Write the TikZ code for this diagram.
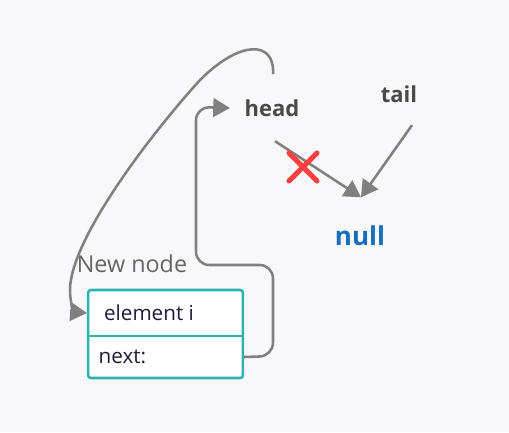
\documentclass[tikz,border=0pt]{standalone}
\usepackage{fontspec}
\setmainfont{Open Sans}
\usepackage{tikz}
\usetikzlibrary{arrows.meta, positioning, calc}
\definecolor{cBack}{RGB}{248,248,250}
\definecolor{cPtr}{RGB}{128,128,128}
\definecolor{cTeal}{RGB}{42,179,176}
\definecolor{cNull}{RGB}{24,110,190}
\definecolor{cLabel}{RGB}{74,74,74}
\definecolor{cInk}{RGB}{28,28,58}
\definecolor{cCross}{RGB}{255,64,64}
\tikzset{
	ptr/.style     ={-{Triangle[length=12.5pt, width=14pt]}, line width=1.9pt, draw=cPtr},
	varname/.style ={font=\fontsize{16.5}{18}\selectfont\bfseries, text=cLabel},
	nodebox/.style ={rectangle, draw=cTeal, line width=1.9pt, rounded corners=2pt, fill=white, minimum width=116pt, minimum height=66pt, inner sep=0pt},
	field/.style   ={font=\fontsize{15.5}{17}\selectfont, text=cInk},
	crossline/.style={draw=cCross, line width=3.8pt, line cap=round},
}
\begin{document}
\begin{tikzpicture}[x=0.75pt, y=-0.75pt]
	\fill[cBack] (0,0) rectangle (509,432);
	\useasboundingbox (0,0) rectangle (509,432);
	% variables
	\node[varname] (head) at (272,108) {head};
	\node[varname] (tail) at (399,94) {tail};
	\node[font=\fontsize{19.5}{21}\selectfont\bfseries, text=cNull] (null) at (360,236) {null};
	% the new node
	\node[nodebox] (box) at (165.5,334) {};
	\draw[cTeal, line width=1.9pt] (box.west |- 0,336) -- (box.east |- 0,336);
	\node[font=\fontsize{17.5}{19}\selectfont, text=cLabel!85] (newlbl) at (132,264) {New node};
	\node[field] (elem) at (149,313) {element i};
	\node[field, anchor=west] (nxt) at (94,357) {next:};
	% pointers
	\coordinate (nulltop) at ($(null.north)+(1,-24)$);
	\draw[ptr] ($(head.south)+(3,20)$) -- (nulltop);
	\draw[ptr] ($(tail.south)+(13,18)$) -- (nulltop);
	\draw[ptr] ($(head.south)+(1,-47)$) .. controls (275,40) and (240,40) .. (200,80)
		.. controls (150,135) and (70,240) .. (70,290)
		.. controls (70,305) and (75,312) .. (box.west |- elem);
	\draw[ptr, rounded corners=10pt] (box.east |- nxt) -- (273,356) -- (273,265) -- (196,265) -- (196,107) -- ($(head.west)+(-10,0)$);
	% broken link
	\draw[crossline] (289,153) -- (317,181);
	\draw[crossline] (317,153) -- (289,181);
\end{tikzpicture}
\end{document}
